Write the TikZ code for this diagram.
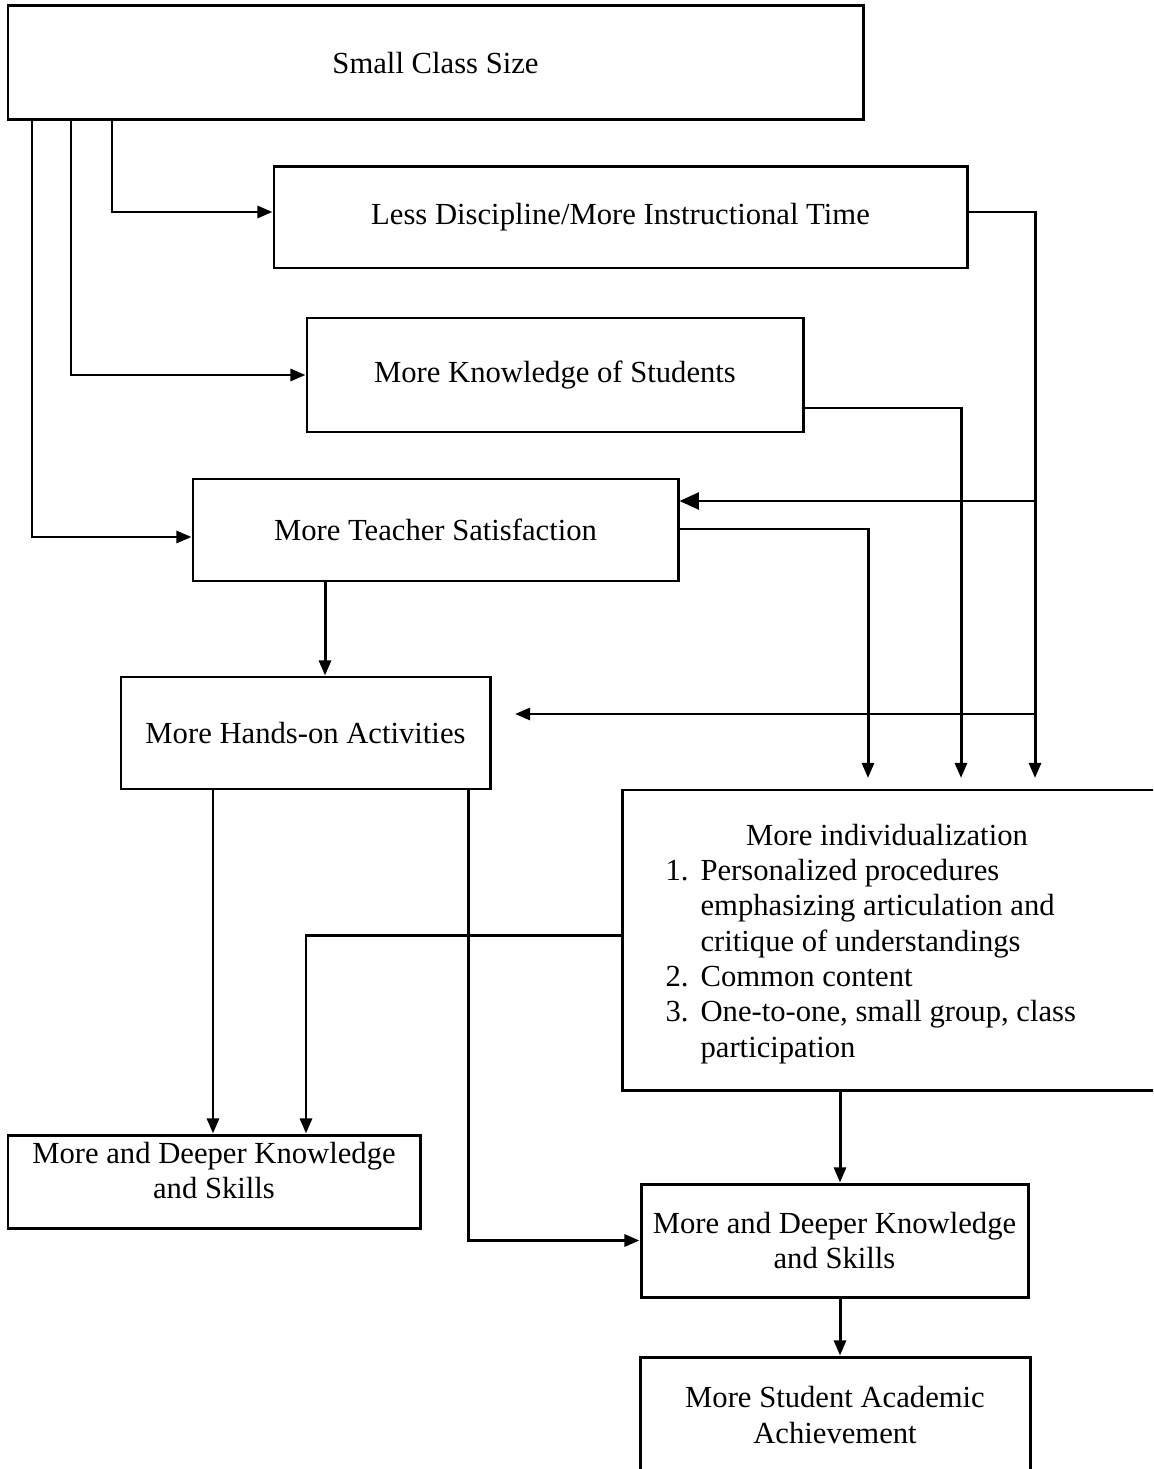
\documentclass[tikz,border=0pt]{standalone}
\usepackage{fontspec}
\setmainfont{Liberation Serif}
\usetikzlibrary{arrows.meta}
\newcommand\pxu{0.385pt}
\begin{document}
\begin{tikzpicture}[x=0.385pt,y=-0.385pt,
  box/.style={draw, line width=1.15pt, inner sep=0pt, align=center, font=\fontsize{11.8}{13.6}\selectfont},
  conn/.style={line width=1.15pt},
  arr/.style={conn, -{Triangle[length=5.8pt,width=4.6pt]}},
  bigarr/.style={conn, -{Triangle[length=7.5pt,width=6.5pt]}},
  lbl/.style={inner sep=0pt, font=\fontsize{11.8}{13.6}\selectfont}]
\useasboundingbox (0,0) rectangle (1153,1469);
\clip (0,0) rectangle (1153,1469);

% boxes
\node[box, minimum width={855*\pxu}, minimum height={114*\pxu}] (small) at (435.5,63) {Small Class Size};
\node[box, minimum width={693*\pxu}, minimum height={101*\pxu}] (lessdisc) at (620.5,217.5) {Less Discipline/More Instructional Time};
\node[box, minimum width={496*\pxu}, minimum height={114*\pxu}] (knowledge) at (555,375) {More Knowledge of Students};
\node[box, minimum width={485*\pxu}, minimum height={102*\pxu}] (teacher) at (435.5,530) {More Teacher Satisfaction};
\node[box, minimum width={369*\pxu}, minimum height={112*\pxu}] (hands) at (305.5,733) {More Hands-on Activities};
\node[box, minimum width={543*\pxu}, minimum height={300*\pxu}] (indiv) at (893.5,940) {};
\node[lbl, anchor=base] (indivtitle) at (887,845) {More individualization};
\node[lbl, anchor=base west, align=left] (indivlist) at (665,1057) {%
\makebox[13.5pt][l]{1.}Personalized procedures\\
\hspace*{13.5pt}emphasizing articulation and\\
\hspace*{13.5pt}critique of understandings\\
\makebox[13.5pt][l]{2.}Common content\\
\makebox[13.5pt][l]{3.}One-to-one, small group, class\\
\hspace*{13.5pt}participation};
\node[box, minimum width={412*\pxu}, minimum height={93*\pxu}, text depth=8.6pt] (deepL) at (214,1181.5) {More and Deeper Knowledge\\and Skills};
\node[box, minimum width={387*\pxu}, minimum height={113*\pxu}] (deepR) at (834.5,1240.5) {More and Deeper Knowledge\\and Skills};
\node[box, minimum width={390*\pxu}, minimum height={116*\pxu}] (achieve) at (835,1415) {More Student Academic\\Achievement};

% helper coordinates
\coordinate (xa) at (112,0);
\coordinate (xb) at (71,0);
\coordinate (xc) at (32,0);
\coordinate (yc) at (0,537);
\coordinate (xd) at (1035,0);
\coordinate (yd) at (0,212);
\coordinate (tipy) at (0,778);
\coordinate (ye) at (0,501);
\coordinate (hfree) at (515,714);
\coordinate (xg) at (961,0);
\coordinate (yg) at (0,408);
\coordinate (xh) at (868,0);
\coordinate (yh) at (0,529);
\coordinate (xi) at (325,0);
\coordinate (xj) at (213,0);
\coordinate (xk) at (468,0);
\coordinate (xl) at (306,0);
\coordinate (yl) at (0,935);
\coordinate (xm) at (840,0);

% connectors
\draw[arr] (small.south -| xa) |- (lessdisc.west |- yd);
\draw[arr] (small.south -| xb) |- (knowledge.west);
\draw[arr] (small.south -| xc) |- (teacher.west |- yc);
\draw[arr] (lessdisc.east |- yd) -| (xd |- tipy);
\draw[bigarr] (xd |- ye) -- (teacher.east |- ye);
\draw[arr] (xd |- hfree) -- (hfree);
\draw[arr] (knowledge.east |- yg) -| (xg |- tipy);
\draw[arr] (teacher.east |- yh) -| (xh |- tipy);
\draw[arr] (teacher.south -| xi) -- (hands.north -| xi);
\draw[arr] (hands.south -| xj) -- (deepL.north -| xj);
\draw[arr] (hands.south -| xk) |- (deepR.west);
\draw[arr] (indiv.west |- yl) -| (deepL.north -| xl);
\draw[arr] (indiv.south -| xm) -- (deepR.north -| xm);
\draw[arr] (deepR.south -| xm) -- (achieve.north -| xm);
\end{tikzpicture}
\end{document}
